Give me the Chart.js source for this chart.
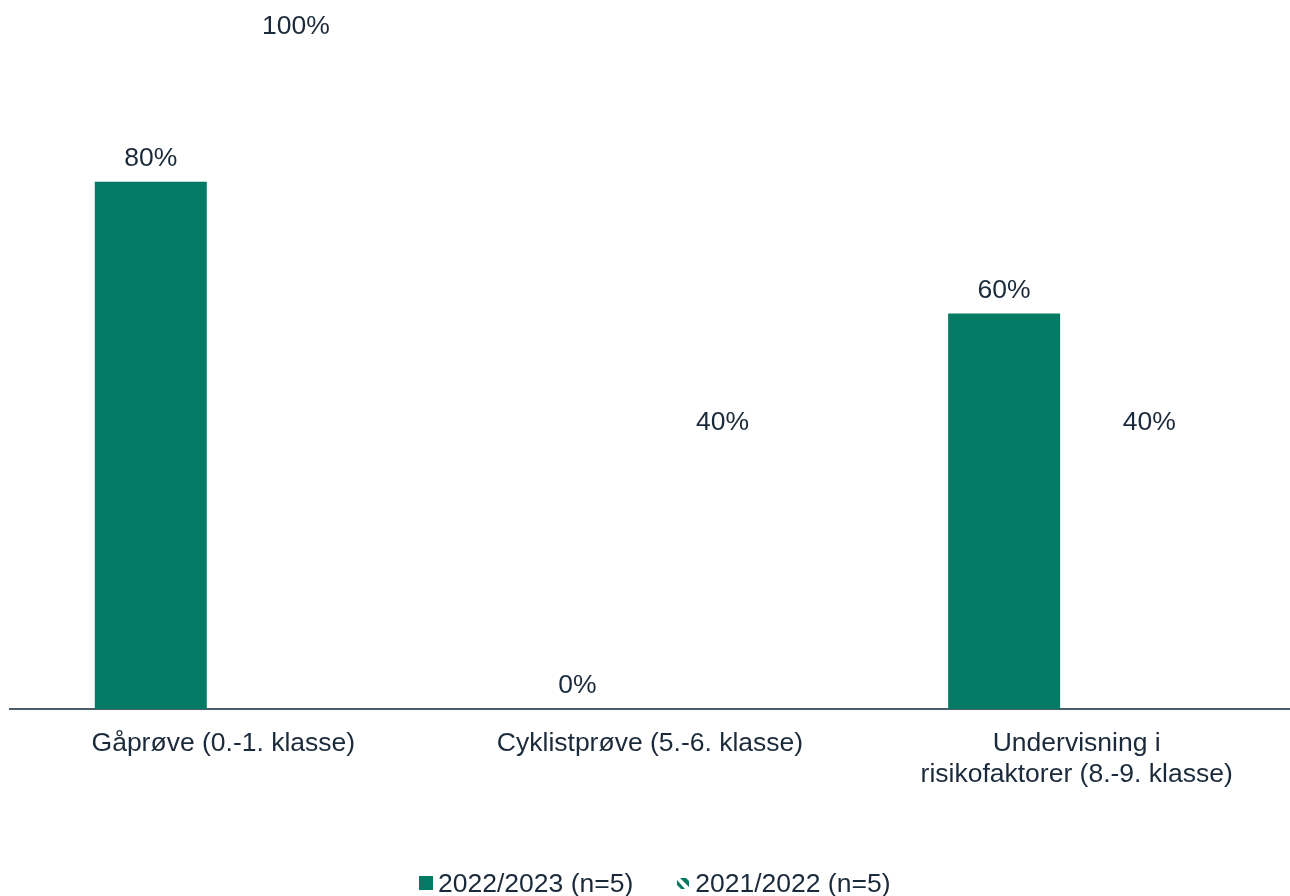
<!DOCTYPE html>
<html>
<head>
<meta charset="utf-8">
<script src="https://cdn.jsdelivr.net/npm/chart.js@4"></script>
<style>
  html, body { margin: 0; padding: 0; background: #ffffff; }
  #wrap { position: relative; width: 1290px; height: 896px; }
  #legend {
    position: absolute; left: 419px; top: 868px; height: 30px;
    display: flex; align-items: center;
    font-family: "Liberation Sans", Arial, sans-serif; font-size: 26.5px; color: #1b2a3a;
  }
  #legend .item { display: flex; align-items: center; margin-right: 43px; }
  #legend canvas { margin-right: 5px; }
</style>
</head>
<body>
<div id="wrap">
  <canvas id="chart"></canvas>
  <div id="legend"></div>
</div>
<script>
var categories = [
    "Gåprøve (0.-1. klasse)",
    "Cyklistprøve (5.-6. klasse)",
    ["Undervisning i", "risikofaktorer (8.-9. klasse)"]
];
var seriesNames = ["2022/2023 (n=5)", "2021/2022 (n=5)"];
var values2223 = [80, 0, 60];
var values2122 = [100, 40, 40];

var green = "#037a63";
var textColor = "#1b2a3a";
var fontFamily = "'Liberation Sans', Arial, sans-serif";

// legend icons
function squareIcon() {
    var c = document.createElement("canvas");
    c.width = 14; c.height = 14;
    var g = c.getContext("2d");
    g.fillStyle = green;
    g.fillRect(0, 0, 14, 14);
    return c;
}
function hatchIcon() {
    var c = document.createElement("canvas");
    c.width = 14; c.height = 14;
    var g = c.getContext("2d");
    g.fillStyle = green;
    g.beginPath();
    g.moveTo(4, 2); g.lineTo(10, 2); g.lineTo(13, 5); g.lineTo(13, 11);
    g.closePath(); g.fill();
    g.beginPath();
    g.moveTo(1, 4); g.lineTo(1, 9); g.lineTo(5, 13); g.lineTo(9, 13);
    g.closePath(); g.fill();
    return c;
}

var legendEl = document.getElementById("legend");
seriesNames.forEach(function(name, i) {
    var item = document.createElement("div");
    item.className = "item";
    item.appendChild(i === 0 ? squareIcon() : hatchIcon());
    var span = document.createElement("span");
    span.textContent = name;
    item.appendChild(span);
    legendEl.appendChild(item);
});

var valueLabels = {
    id: "valueLabels",
    afterDatasetsDraw: function(chart) {
        var ctx = chart.ctx;
        ctx.save();
        ctx.font = "26.5px " + fontFamily;
        ctx.fillStyle = textColor;
        ctx.textAlign = "center";
        ctx.textBaseline = "middle";
        chart.data.datasets.forEach(function(ds, i) {
            chart.getDatasetMeta(i).data.forEach(function(bar, j) {
                ctx.fillText(ds.data[j] + "%", bar.x, bar.y - 23);
            });
        });
        ctx.restore();
    }
};

new Chart(document.getElementById("chart"), {
    type: "bar",
    data: {
        labels: categories,
        datasets: [{
            label: seriesNames[0],
            data: values2223,
            backgroundColor: green,
            borderWidth: 0
        }, {
            label: seriesNames[1],
            data: values2122,
            backgroundColor: "rgba(0,0,0,0)",
            borderWidth: 0
        }]
    },
    options: {
        responsive: true,
        maintainAspectRatio: false,
        animation: false,
        categoryPercentage: 0.68,
        barPercentage: 0.772,
        layout: {
            padding: { top: 50, left: 10, right: 0, bottom: 0 }
        },
        plugins: {
            tooltip: { enabled: false },
            legend: { display: false }
        },
        scales: {
            x: {
                afterFit: function(scale) { scale.height = 187; },
                grid: { display: false, drawTicks: false },
                border: { display: true, color: "#4d5c69", width: 2 },
                ticks: {
                    color: textColor,
                    padding: 19,
                    maxRotation: 0,
                    font: { size: 26.5, family: fontFamily, lineHeight: 1.17 }
                }
            },
            y: {
                display: false,
                min: 0,
                max: 100
            }
        }
    },
    plugins: [valueLabels]
});
</script>
</body>
</html>
